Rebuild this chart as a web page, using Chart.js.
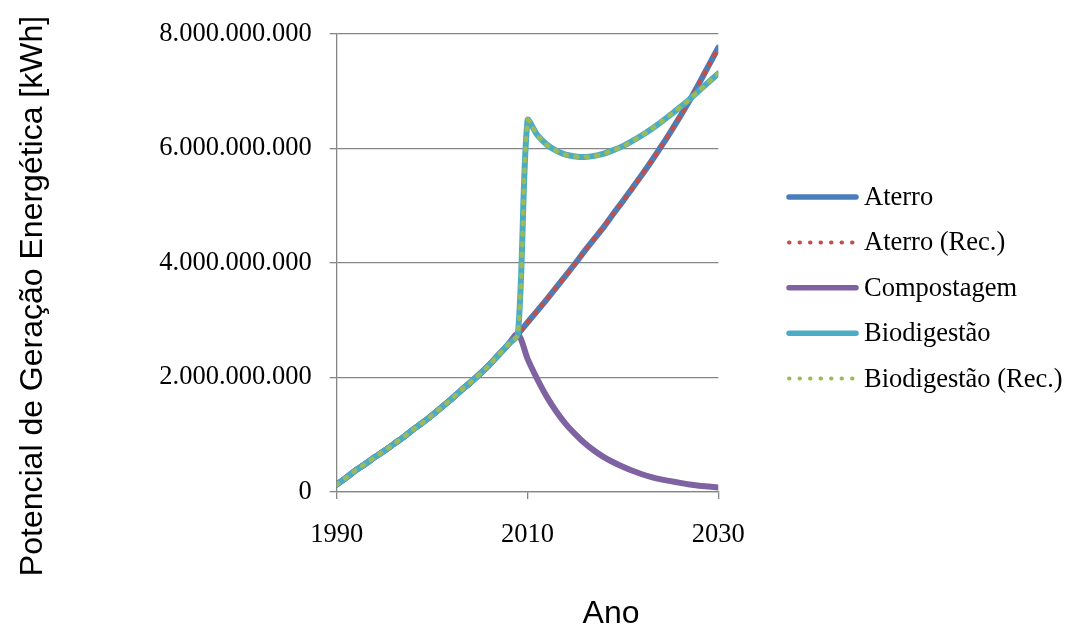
<!DOCTYPE html>
<html lang="pt">
<head>
<meta charset="utf-8">
<title>Potencial de Geração Energética</title>
<script src="https://cdn.jsdelivr.net/npm/chart.js@4/dist/chart.umd.min.js"></script>
<style>
  html, body { margin: 0; padding: 0; background: #ffffff; }
  #wrap { width: 1066px; height: 628px; position: relative; }
</style>
</head>
<body>
<div id="wrap"><canvas id="grafico" width="1066" height="628"></canvas></div>
<script>
// Anos da série histórica e da projeção
const anos = [1990, 1991, 1992, 1993, 1994, 1995, 1996, 1997, 1998, 1999,
              2000, 2001, 2002, 2003, 2004, 2005, 2006, 2007, 2008, 2009,
              2010, 2011, 2012, 2013, 2014, 2015, 2016, 2017, 2018, 2019,
              2020, 2021, 2022, 2023, 2024, 2025, 2026, 2027, 2028, 2029, 2030];

// Potencial por cenário, em bilhões de kWh
const aterro = [0.13, 0.25, 0.38, 0.49, 0.61, 0.72, 0.84, 0.96, 1.09, 1.21,
                1.34, 1.48, 1.62, 1.77, 1.91, 2.06, 2.22, 2.40, 2.58, 2.76,
                2.96, 3.16, 3.36, 3.57, 3.78, 3.99, 4.21, 4.42, 4.63, 4.86,
                5.08, 5.31, 5.54, 5.78, 6.03, 6.29, 6.56, 6.84, 7.14, 7.45, 7.76];

const aterroRec = [0.13, 0.25, 0.38, 0.49, 0.61, 0.72, 0.84, 0.96, 1.09, 1.21,
                   1.34, 1.48, 1.62, 1.77, 1.91, 2.06, 2.22, 2.40, 2.58, 2.76,
                   2.96, 3.16, 3.36, 3.57, 3.78, 3.99, 4.21, 4.42, 4.63, 4.86,
                   5.08, 5.31, 5.54, 5.78, 6.03, 6.29, 6.56, 6.84, 7.14, 7.45, 7.76];

const compostagem = [0.13, 0.25, 0.38, 0.49, 0.61, 0.72, 0.84, 0.96, 1.09, 1.21,
                     1.34, 1.48, 1.62, 1.77, 1.91, 2.06, 2.22, 2.40, 2.58, 2.76,
                     2.33, 1.98, 1.67, 1.41, 1.19, 1.01, 0.85, 0.72, 0.61, 0.52,
                     0.44, 0.37, 0.31, 0.26, 0.22, 0.19, 0.16, 0.13, 0.11, 0.095, 0.08];

const biodigestao = [0.13, 0.25, 0.38, 0.49, 0.61, 0.72, 0.84, 0.96, 1.09, 1.21,
                     1.34, 1.48, 1.62, 1.77, 1.91, 2.06, 2.22, 2.40, 2.58, 2.76,
                     6.49, 6.24, 6.07, 5.96, 5.89, 5.86, 5.85, 5.87, 5.91, 5.97,
                     6.04, 6.13, 6.23, 6.34, 6.46, 6.59, 6.72, 6.86, 7.01, 7.16, 7.31];

const biodigestaoRec = [0.13, 0.25, 0.38, 0.49, 0.61, 0.72, 0.84, 0.96, 1.09, 1.21,
                        1.34, 1.48, 1.62, 1.77, 1.91, 2.06, 2.22, 2.40, 2.58, 2.76,
                        6.49, 6.24, 6.07, 5.96, 5.89, 5.86, 5.85, 5.87, 5.91, 5.97,
                        6.04, 6.13, 6.23, 6.34, 6.46, 6.59, 6.72, 6.86, 7.01, 7.16, 7.31];

const nomes = ['Aterro', 'Aterro (Rec.)', 'Compostagem', 'Biodigestão', 'Biodigestão (Rec.)'];
const ticksX = [1990, 2010, 2030];
const ticksY = [0, 2000000000, 4000000000, 6000000000, 8000000000];

const BILHAO = 1e9;
const pontos = (serie) => anos.map((a, i) => ({ x: a, y: serie[i] * BILHAO }));

const CINZA = '#868686';
const SERIF = '"Liberation Serif", "Times New Roman", serif';
const SANS = '"Liberation Sans", Arial, sans-serif';

function milhar(v) {
  return String(Math.round(v)).replace(/\B(?=(\d{3})+(?!\d))/g, '.');
}

function serieCheia(label, dados, cor, ordem) {
  return {
    label, data: pontos(dados), borderColor: cor, backgroundColor: cor,
    borderWidth: 6, pointRadius: 0, fill: false, order: ordem, tension: 0.3,
    borderCapStyle: 'round', borderJoinStyle: 'round'
  };
}
function seriePontilhada(label, dados, cor, ordem) {
  return {
    label, data: pontos(dados), borderColor: cor, backgroundColor: cor,
    borderWidth: 4.5, borderDash: [2, 8.5], borderCapStyle: 'round', borderJoinStyle: 'round',
    pointRadius: 0, fill: false, order: ordem, tension: 0.3
  };
}

// Legenda à direita e títulos dos eixos
const decoracao = {
  id: 'decoracao',
  afterDraw(chart) {
    const ctx = chart.ctx;
    ctx.save();
    // legenda
    const x0 = 789, x1 = 856, xt = 864, y0 = 197, passo = 45.4;
    chart.data.datasets.forEach((ds, i) => {
      const y = y0 + i * passo;
      ctx.beginPath();
      ctx.strokeStyle = ds.borderColor;
      ctx.lineWidth = ds.borderDash ? 4 : 5.5;
      ctx.lineCap = 'round';
      ctx.setLineDash(ds.borderDash ? [0.5, 10] : []);
      ctx.moveTo(x0, y);
      ctx.lineTo(x1, y);
      ctx.stroke();
      ctx.setLineDash([]);
      ctx.fillStyle = '#000000';
      ctx.font = '26.5px ' + SERIF;
      ctx.textAlign = 'left';
      ctx.textBaseline = 'middle';
      ctx.fillText(ds.label, xt, y + 1);
    });
    // título do eixo X
    ctx.fillStyle = '#000000';
    ctx.font = '32px ' + SANS;
    ctx.textAlign = 'center';
    ctx.textBaseline = 'alphabetic';
    ctx.fillText('Ano', 611, 623);
    // título do eixo Y
    ctx.translate(42, 296);
    ctx.rotate(-Math.PI / 2);
    ctx.fillText('Potencial de Geração Energética [kWh]', 0, 0);
    ctx.restore();
  }
};

new Chart(document.getElementById('grafico'), {
  type: 'line',
  data: {
    datasets: [
      serieCheia(nomes[0], aterro, '#4A7EBB', 5),
      seriePontilhada(nomes[1], aterroRec, '#C0504D', 4),
      serieCheia(nomes[2], compostagem, '#7E62A1', 3),
      serieCheia(nomes[3], biodigestao, '#4BACC6', 2),
      seriePontilhada(nomes[4], biodigestaoRec, '#9BBB59', 1)
    ]
  },
  options: {
    responsive: false,
    animation: false,
    events: [],
    layout: { padding: { left: 0, right: 347.7, top: 29.3, bottom: 0 } },
    plugins: { legend: { display: false }, tooltip: { enabled: false }, title: { display: false } },
    scales: {
      x: {
        type: 'linear', min: 1990, max: 2030,
        afterFit(s) { s.height = 136; },
        afterBuildTicks(s) { s.ticks = ticksX.map(v => ({ value: v })); },
        grid: { drawOnChartArea: false, drawTicks: true, tickLength: 7, color: CINZA, lineWidth: 1.3 },
        border: { display: true, color: CINZA, width: 1.3 },
        ticks: { color: '#000000', font: { family: SERIF, size: 26.5 }, padding: 20,
                 maxRotation: 0, autoSkip: false, callback: v => String(v) }
      },
      y: {
        type: 'linear', min: 0, max: 8 * BILHAO,
        afterFit(s) { s.width = 336.7; },
        afterBuildTicks(s) { s.ticks = ticksY.map(v => ({ value: v })); },
        grid: { drawTicks: true, tickLength: 7, color: CINZA, lineWidth: 1.3 },
        border: { display: true, color: CINZA, width: 1.3 },
        ticks: { color: '#000000', font: { family: SERIF, size: 26.5 }, padding: 18,
                 autoSkip: false, callback: v => milhar(v) }
      }
    }
  },
  plugins: [decoracao]
});
</script>
</body>
</html>
